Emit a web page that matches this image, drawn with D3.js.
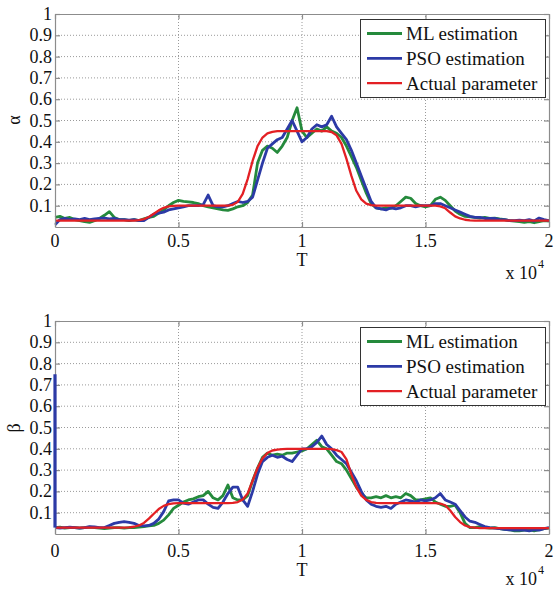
<!DOCTYPE html>
<html><head><meta charset="utf-8">
<script src="https://cdn.jsdelivr.net/npm/d3@7"></script>
<style>
body{margin:0;background:#fff}
</style>
</head><body>
<svg id="c" width="554" height="589"></svg>
<script>
// ---------- DATA ----------
// sample grid of T (every 200 steps, 0 .. 20000)
const T = d3.range(0, 20001, 200);
const xTicks = [0, 5000, 10000, 15000, 20000];
const xTickLabels = ["0", "0.5", "1", "1.5", "2"];
const yTicks = [0.1, 0.2, 0.3, 0.4, 0.5, 0.6, 0.7, 0.8, 0.9, 1];
const yTickLabels = ["0.1", "0.2", "0.3", "0.4", "0.5", "0.6", "0.7", "0.8", "0.9", "1"];
const seriesNames = ["ML estimation", "PSO estimation", "Actual parameter"];

const alphaML = [
  0.045,0.05,0.04,0.045,0.035,0.03,0.025,0.022,0.03,0.04,
  0.055,0.072,0.045,0.035,0.035,0.03,0.035,0.03,0.038,0.045,
  0.05,0.065,0.08,0.1,0.115,0.125,0.12,0.118,0.115,0.11,
  0.1,0.095,0.09,0.085,0.08,0.078,0.085,0.095,0.1,0.115,
  0.15,0.3,0.36,0.38,0.37,0.35,0.38,0.42,0.5,0.56,
  0.45,0.42,0.44,0.46,0.45,0.47,0.45,0.44,0.42,0.38,
  0.33,0.28,0.22,0.16,0.11,0.09,0.085,0.09,0.088,0.1,
  0.12,0.14,0.135,0.11,0.1,0.095,0.1,0.13,0.14,0.125,
  0.1,0.075,0.06,0.05,0.048,0.045,0.042,0.045,0.04,0.042,
  0.038,0.035,0.03,0.028,0.025,0.022,0.025,0.02,0.025,0.03,
  0.028];
const alphaPSO = [
  0.01,0.035,0.04,0.035,0.038,0.035,0.04,0.035,0.038,0.04,
  0.042,0.038,0.04,0.035,0.035,0.032,0.035,0.03,0.03,0.045,
  0.06,0.065,0.07,0.08,0.085,0.09,0.095,0.1,0.1,0.1,
  0.105,0.15,0.1,0.095,0.095,0.1,0.11,0.12,0.115,0.12,
  0.14,0.22,0.3,0.37,0.39,0.41,0.42,0.46,0.5,0.45,
  0.4,0.42,0.46,0.48,0.47,0.48,0.52,0.47,0.44,0.41,
  0.36,0.3,0.24,0.18,0.12,0.09,0.085,0.08,0.09,0.085,
  0.09,0.1,0.1,0.095,0.1,0.1,0.1,0.11,0.11,0.1,
  0.09,0.08,0.07,0.06,0.05,0.045,0.045,0.04,0.04,0.04,
  0.035,0.035,0.03,0.03,0.032,0.03,0.035,0.028,0.042,0.035,
  0.03];
const alphaActual = [
  0.03,0.03,0.03,0.03,0.03,0.03,0.03,0.03,0.03,0.03,
  0.03,0.03,0.03,0.03,0.03,0.03,0.03,0.032,0.037,0.047,
  0.062,0.078,0.09,0.097,0.099,0.1,0.1,0.1,0.1,0.1,
  0.1,0.1,0.1,0.1,0.1,0.1,0.104,0.118,0.155,0.225,
  0.31,0.38,0.42,0.44,0.447,0.45,0.45,0.45,0.45,0.45,
  0.45,0.45,0.45,0.45,0.45,0.45,0.446,0.43,0.39,0.32,
  0.24,0.17,0.13,0.11,0.103,0.1,0.1,0.1,0.1,0.1,
  0.1,0.1,0.1,0.1,0.1,0.1,0.1,0.1,0.097,0.088,
  0.068,0.05,0.04,0.034,0.031,0.03,0.03,0.03,0.03,0.03,
  0.03,0.03,0.03,0.03,0.03,0.03,0.03,0.03,0.03,0.03,
  0.03];

const betaML = [
  0.03,0.032,0.028,0.03,0.03,0.028,0.03,0.032,0.03,0.028,
  0.025,0.028,0.03,0.03,0.028,0.03,0.03,0.032,0.035,0.038,
  0.04,0.05,0.065,0.09,0.12,0.135,0.15,0.16,0.165,0.175,
  0.18,0.2,0.17,0.16,0.18,0.23,0.17,0.16,0.16,0.18,
  0.25,0.31,0.36,0.38,0.37,0.375,0.37,0.38,0.38,0.385,
  0.39,0.4,0.42,0.44,0.41,0.4,0.37,0.34,0.33,0.3,
  0.26,0.22,0.19,0.17,0.17,0.175,0.17,0.18,0.17,0.175,
  0.17,0.19,0.18,0.16,0.16,0.165,0.17,0.15,0.14,0.13,
  0.13,0.135,0.1,0.05,0.03,0.03,0.035,0.03,0.028,0.03,
  0.025,0.022,0.02,0.015,0.015,0.018,0.02,0.015,0.02,0.025,
  0.028];
const betaPSOStart = 0.75;   // initial value at T = 0
const betaPSO = [
  0.03,0.028,0.03,0.032,0.03,0.028,0.03,0.035,0.033,0.03,
  0.03,0.04,0.05,0.055,0.058,0.055,0.05,0.04,0.038,0.04,
  0.05,0.07,0.105,0.155,0.16,0.16,0.145,0.14,0.15,0.16,
  0.16,0.14,0.125,0.12,0.15,0.19,0.22,0.22,0.16,0.13,
  0.2,0.28,0.34,0.36,0.37,0.36,0.365,0.35,0.34,0.37,
  0.4,0.4,0.41,0.43,0.46,0.42,0.4,0.37,0.35,0.33,
  0.29,0.25,0.2,0.16,0.14,0.13,0.125,0.13,0.12,0.14,
  0.15,0.16,0.155,0.15,0.16,0.155,0.16,0.17,0.19,0.16,
  0.15,0.14,0.11,0.08,0.06,0.055,0.045,0.035,0.03,0.028,
  0.025,0.022,0.02,0.018,0.02,0.018,0.015,0.02,0.018,0.025,
  0.03];
const betaActual = [
  0.03,0.03,0.03,0.03,0.03,0.03,0.03,0.03,0.03,0.03,
  0.03,0.03,0.03,0.03,0.03,0.031,0.034,0.04,0.052,0.072,
  0.095,0.117,0.132,0.14,0.144,0.145,0.145,0.145,0.145,0.145,
  0.145,0.145,0.145,0.145,0.145,0.145,0.146,0.15,0.162,0.19,
  0.25,0.31,0.355,0.38,0.392,0.396,0.398,0.4,0.4,0.4,
  0.4,0.4,0.4,0.4,0.4,0.4,0.398,0.394,0.385,0.35,
  0.28,0.22,0.18,0.16,0.15,0.146,0.145,0.145,0.145,0.145,
  0.145,0.145,0.145,0.145,0.145,0.145,0.145,0.145,0.143,0.135,
  0.11,0.08,0.056,0.04,0.032,0.03,0.028,0.028,0.028,0.028,
  0.028,0.028,0.028,0.028,0.028,0.028,0.028,0.028,0.028,0.028,
  0.028];

// ---------- DRAW ----------
const colors = ["#258a3c", "#2c3aa6", "#e32024"];
const svg = d3.select("#c");
const FS = 18;

function txt(sel) {
  return sel.append("text").style("font-family", '"Liberation Serif"').attr("fill", "#111");
}

function panel(cfg) {
  const x = d3.scaleLinear().domain([0, 20000]).range([55, 549]);
  const y = d3.scaleLinear().domain([0, 1]).range([cfg.y1, cfg.y0]);
  const g = svg.append("g");

  // grid
  g.selectAll(".gy").data(yTicks.slice(0, -1)).join("line")
    .attr("x1", x(0)).attr("x2", x(20000))
    .attr("y1", d => y(d)).attr("y2", d => y(d))
    .attr("stroke", "#9a9a9a").attr("stroke-width", 1).attr("stroke-dasharray", "1,2");
  g.selectAll(".gx").data(xTicks.slice(1, -1)).join("line")
    .attr("x1", d => x(d)).attr("x2", d => x(d))
    .attr("y1", y(0)).attr("y2", y(1))
    .attr("stroke", "#9a9a9a").attr("stroke-width", 1).attr("stroke-dasharray", "1,2");

  // clip
  const cid = "clip" + cfg.id;
  svg.append("clipPath").attr("id", cid).append("rect")
    .attr("x", x(0) - 0.5).attr("y", y(1)).attr("width", x(20000) - x(0) + 0.5).attr("height", y(0) - y(1));

  const line = d3.line().x(d => x(d[0])).y(d => y(d[1]));
  const lg = g.append("g").attr("clip-path", `url(#${cid})`);
  cfg.series.forEach((s, i) => {
    lg.append("path").datum(s).attr("d", line)
      .attr("fill", "none").attr("stroke", colors[i])
      .attr("stroke-width", i === 2 ? 2.3 : 2.8).attr("stroke-linejoin", "round");
  });

  // axes box & ticks
  const axB = d3.axisBottom(x).tickValues(xTicks).tickSizeInner(-5).tickSizeOuter(0).tickFormat("");
  const axT = d3.axisTop(x).tickValues(xTicks).tickSizeInner(-5).tickSizeOuter(0).tickFormat("");
  const axL = d3.axisLeft(y).tickValues(yTicks).tickSizeInner(-5).tickSizeOuter(0).tickFormat("");
  const axR = d3.axisRight(y).tickValues(yTicks).tickSizeInner(-5).tickSizeOuter(0).tickFormat("");
  [[axB, `translate(0,${y(0)})`], [axT, `translate(0,${y(1)})`], [axL, `translate(${x(0)},0)`], [axR, `translate(${x(20000)},0)`]]
    .forEach(([a, t]) => {
      const ag = g.append("g").attr("transform", t).call(a);
      ag.attr("font-family", null).attr("font-size", null);
      ag.selectAll("path,line").attr("stroke", "#8c8c8c").attr("stroke-width", 1.2);
      ag.selectAll("text").remove();
    });

  // blue start spike drawn on top of the left axis
  if (cfg.spike) {
    g.append("path").datum(cfg.spike).attr("d", line)
      .attr("fill", "none").attr("stroke", colors[1]).attr("stroke-width", 3.2);
  }

  // tick labels
  xTicks.forEach((d, i) => {
    txt(g).attr("x", x(d)).attr("y", cfg.tickBase).attr("text-anchor", "middle")
      .attr("font-size", FS).text(xTickLabels[i]);
  });
  yTicks.forEach((d, i) => {
    txt(g).attr("x", 52).attr("y", y(d) + 6).attr("text-anchor", "end")
      .attr("font-size", FS).text(yTickLabels[i]);
  });

  txt(g).attr("x", x(10000)).attr("y", cfg.tBase).attr("text-anchor", "middle")
    .attr("font-size", FS).text("T");
  txt(g).attr("x", 537).attr("y", cfg.x10Base).attr("text-anchor", "end")
    .attr("font-size", FS).text("x 10");
  txt(g).attr("x", 538).attr("y", cfg.x10Base - 11).attr("font-size", 12).text("4");

  txt(g).attr("transform", `translate(20,${cfg.labelY}) rotate(-90)`)
    .attr("text-anchor", "middle").attr("font-size", FS).text(cfg.label);

  // legend
  const L = g.append("g").attr("transform", `translate(360,${cfg.legY})`);
  L.append("rect").attr("x", 0.5).attr("y", 0.5).attr("width", 185).attr("height", 78)
    .attr("fill", "#fff").attr("stroke", "#333").attr("stroke-width", 1);
  seriesNames.forEach((n, i) => {
    const yy = 14.5 + i * 24.8;
    L.append("line").attr("x1", 7).attr("x2", 42).attr("y1", yy).attr("y2", yy)
      .attr("stroke", colors[i]).attr("stroke-width", i === 2 ? 2.3 : 2.8);
    txt(L).attr("x", 46).attr("y", yy + 6.5).attr("font-size", 19).text(n);
  });
}

const zip = (arr) => T.map((t, i) => [t, arr[i]]);

panel({
  id: "a", y0: 14, y1: 227, tickBase: 247, tBase: 266, x10Base: 279, label: "α", labelY: 120, legY: 19,
  series: [zip(alphaML), zip(alphaPSO), zip(alphaActual)]
});
panel({
  id: "b", y0: 321, y1: 534, tickBase: 557, tBase: 576, x10Base: 585, label: "β", labelY: 428, legY: 327,
  series: [zip(betaML), zip(betaPSO), zip(betaActual)],
  spike: [[0, betaPSOStart], [0, betaPSO[0]]]
});
</script>
</body></html>
